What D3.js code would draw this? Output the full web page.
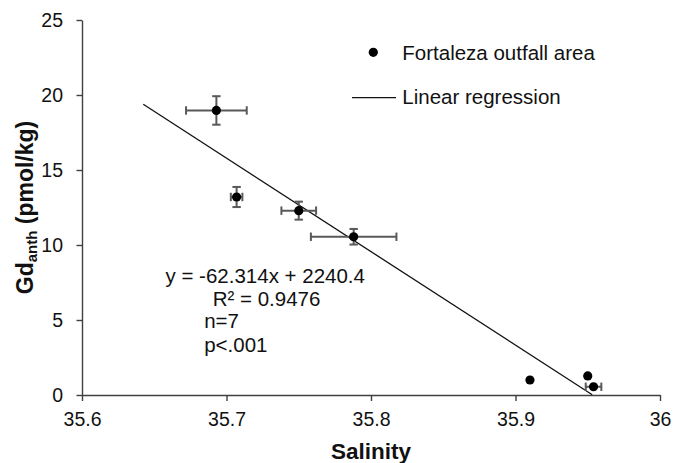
<!DOCTYPE html>
<html>
<head>
<meta charset="utf-8">
<script src="https://cdn.jsdelivr.net/npm/d3@7"></script>
<style>
  html, body { margin: 0; padding: 0; background: #fff; }
  svg { display: block; font-family: "Liberation Sans", Arial, sans-serif; }
</style>
</head>
<body>
<svg id="chart" width="674" height="463"></svg>
<script>
// ---- data ----
const salinity = [35.693, 35.707, 35.750, 35.788, 35.910, 35.950, 35.954];
const gdAnth   = [18.97, 13.2, 12.29, 10.55, 1.0, 1.27, 0.55];
const salErr   = [0.021, 0.004, 0.012, 0.0296, 0, 0, 0.0054];
const gdErr    = [0.95, 0.67, 0.6, 0.52, 0, 0, 0];
const slope = -62.314, intercept = 2240.4;
const regRange = [35.6424, 35.9531];
const xTickValues = [35.6, 35.7, 35.8, 35.9, 36];
const xTickLabels = ["35.6", "35.7", "35.8", "35.9", "36"];
const yTickValues = [0, 5, 10, 15, 20, 25];
const statsLines = ["y = -62.314x + 2240.4", "R\u00B2 = 0.9476", "n=7", "p<.001"];
const legendLabels = ["Fortaleza outfall area", "Linear regression"];

// ---- layout ----
const W = 674, H = 463;
const m = { left: 82, right: 14, top: 20, bottom: 68 };
const svg = d3.select("#chart");
const x = d3.scaleLinear().domain([35.6, 36]).range([m.left, W - m.right]);
const y = d3.scaleLinear().domain([0, 25]).range([H - m.bottom, m.top]);

const axisColor = "#404040";
const errColor = "#595959";

// axes
const gx = svg.append("g").attr("transform", `translate(0,${y(0)})`)
  .call(d3.axisBottom(x).tickValues(xTickValues)
    .tickFormat((d, i) => xTickLabels[i]).tickSize(6).tickSizeOuter(0).tickPadding(10.7));
const gy = svg.append("g").attr("transform", `translate(${x(35.6)},0)`)
  .call(d3.axisLeft(y).tickValues(yTickValues).tickSize(5.5).tickSizeOuter(0).tickPadding(13.5));
[gx, gy].forEach(g => {
  g.select(".domain").attr("stroke", axisColor).attr("stroke-width", 1.4);
  g.selectAll(".tick line").attr("stroke", axisColor).attr("stroke-width", 1.4);
  g.selectAll(".tick text").attr("fill", "#111").style("font-size", "19.5px")
    .style("font-family", '"Liberation Sans", Arial, sans-serif');
});

// axis titles
svg.append("text").attr("x", (x(35.6) + x(36)) / 2).attr("y", 459)
  .attr("text-anchor", "middle").style("font-size", "22.5px").style("font-weight", "bold")
  .attr("fill", "#111").text("Salinity");

const yt = svg.append("text")
  .attr("transform", `translate(33,${(y(0) + y(25)) / 2}) rotate(-90)`)
  .attr("text-anchor", "middle").style("font-size", "23px").style("font-weight", "bold")
  .attr("fill", "#111");
yt.append("tspan").text("Gd");
yt.append("tspan").attr("dy", 4).style("font-size", "15px").text("anth");
yt.append("tspan").attr("dy", -4).text(" (pmol/kg)");

// regression line
svg.append("line")
  .attr("x1", x(regRange[0])).attr("y1", y(slope * regRange[0] + intercept))
  .attr("x2", x(regRange[1])).attr("y2", y(slope * regRange[1] + intercept))
  .attr("stroke", "#111").attr("stroke-width", 1.3);

// error bars
const pts = salinity.map((s, i) => ({ s, g: gdAnth[i], es: salErr[i], eg: gdErr[i] }));
const eb = svg.append("g").attr("stroke", errColor).attr("stroke-width", 2).attr("fill", "none");
const cap = 4.2;
pts.forEach(p => {
  if (p.es > 0) {
    const x0 = x(p.s - p.es), x1 = x(p.s + p.es), yy = y(p.g);
    eb.append("line").attr("x1", x0).attr("x2", x1).attr("y1", yy).attr("y2", yy);
    eb.append("line").attr("x1", x0).attr("x2", x0).attr("y1", yy - cap).attr("y2", yy + cap);
    eb.append("line").attr("x1", x1).attr("x2", x1).attr("y1", yy - cap).attr("y2", yy + cap);
  }
  if (p.eg > 0) {
    const y0 = y(p.g - p.eg), y1 = y(p.g + p.eg), xx = x(p.s);
    eb.append("line").attr("x1", xx).attr("x2", xx).attr("y1", y0).attr("y2", y1);
    eb.append("line").attr("x1", xx - cap).attr("x2", xx + cap).attr("y1", y0).attr("y2", y0);
    eb.append("line").attr("x1", xx - cap).attr("x2", xx + cap).attr("y1", y1).attr("y2", y1);
  }
});

// points
svg.append("g").selectAll("circle").data(pts).join("circle")
  .attr("cx", d => x(d.s)).attr("cy", d => y(d.g)).attr("r", 4.6).attr("fill", "#000");

// stats text
const statX = [165.5, 212.7, 204.2, 204.2];
const statY = [282.5, 305.5, 328.3, 351.6];
statsLines.forEach((t, i) => {
  svg.append("text").attr("x", statX[i]).attr("y", statY[i])
    .style("font-size", "20.5px").attr("fill", "#111").text(t);
});

// legend
svg.append("circle").attr("cx", 373.3).attr("cy", 52.3).attr("r", 4.6).attr("fill", "#000");
svg.append("text").attr("x", 402.3).attr("y", 59.5).style("font-size", "20.5px")
  .attr("fill", "#111").text(legendLabels[0]);
svg.append("line").attr("x1", 352).attr("x2", 396).attr("y1", 97.7).attr("y2", 97.7)
  .attr("stroke", "#111").attr("stroke-width", 1.3);
svg.append("text").attr("x", 402.3).attr("y", 104.3).style("font-size", "20.5px")
  .attr("fill", "#111").text(legendLabels[1]);
</script>
</body>
</html>
